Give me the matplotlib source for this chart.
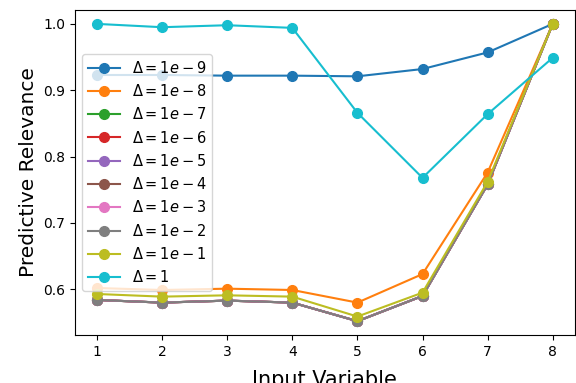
import matplotlib
matplotlib.use("Agg")
import matplotlib.pyplot as plt

x = [1, 2, 3, 4, 5, 6, 7, 8]
labels = [r"$\Delta = 1e-9$", r"$\Delta = 1e-8$", r"$\Delta = 1e-7$", r"$\Delta = 1e-6$",
          r"$\Delta = 1e-5$", r"$\Delta = 1e-4$", r"$\Delta = 1e-3$", r"$\Delta = 1e-2$",
          r"$\Delta = 1e-1$", r"$\Delta = 1$"]

d_1e9 = [0.923, 0.923, 0.922, 0.922, 0.921, 0.932, 0.957, 1.0]
d_1e8 = [0.602, 0.599, 0.601, 0.599, 0.580, 0.623, 0.776, 1.0]
d_small = [0.584, 0.580, 0.583, 0.580, 0.552, 0.590, 0.758, 1.0]
d_1e1 = [0.593, 0.589, 0.591, 0.589, 0.559, 0.595, 0.762, 1.0]
d_1 = [1.0, 0.995, 0.998, 0.994, 0.866, 0.768, 0.864, 0.949]

series = [d_1e9, d_1e8, d_small, d_small, d_small, d_small, d_small, d_small, d_1e1, d_1]

fig, ax = plt.subplots(figsize=(5.76, 3.83), dpi=100)
for s, lab in zip(series, labels):
    ax.plot(x, s, marker='o', markersize=7, linewidth=1.5, label=lab)

ax.set_xlim(0.66, 8.34)
ax.set_ylim(0.531, 1.021)
ax.set_xticks(x)
ax.set_yticks([0.6, 0.7, 0.8, 0.9, 1.0])
ax.set_xlabel("Input Variable", fontsize=15, labelpad=8)
ax.set_ylabel("Predictive Relevance", fontsize=14.5)
ax.legend(loc='center left', fontsize=10.5, handlelength=2.2)
fig.subplots_adjust(left=0.13, right=0.998, top=0.974, bottom=0.125)
fig.savefig("out.png", dpi=100)
